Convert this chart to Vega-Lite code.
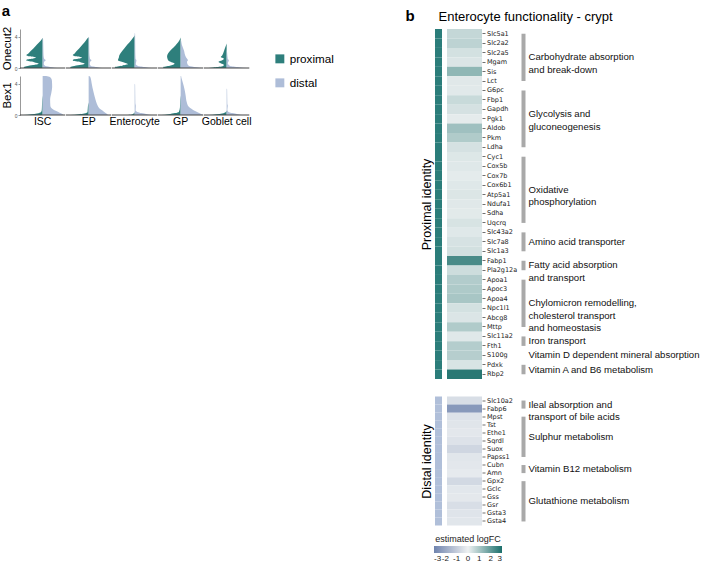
{
"$schema":"https://vega.github.io/schema/vega-lite/v6.json",
"padding":{"left":1,"top":3,"right":0,"bottom":0},
"config":{"view":{"stroke":null},"font":"Liberation Sans",
 "title":{"font":"Liberation Sans","color":"#000"},
 "axis":{"labelFont":"Liberation Sans","titleFont":"Liberation Sans"},
 "header":{"labelFont":"Liberation Sans"},
 "legend":{"labelFont":"Liberation Sans","titleFont":"Liberation Sans"}},
"datasets":{
"violin":[
{"g":"Onecut2","c":"ISC","s":"proximal","e":0,"w":-0.8},{"g":"Onecut2","c":"ISC","s":"proximal","e":0.1,"w":-0.84},{"g":"Onecut2","c":"ISC","s":"proximal","e":0.22,"w":-0.72},{"g":"Onecut2","c":"ISC","s":"proximal","e":0.38,"w":-0.42},{"g":"Onecut2","c":"ISC","s":"proximal","e":0.55,"w":-0.17},{"g":"Onecut2","c":"ISC","s":"proximal","e":0.75,"w":-0.38},{"g":"Onecut2","c":"ISC","s":"proximal","e":0.95,"w":-0.72},{"g":"Onecut2","c":"ISC","s":"proximal","e":1.08,"w":-0.7},{"g":"Onecut2","c":"ISC","s":"proximal","e":1.22,"w":-0.42},{"g":"Onecut2","c":"ISC","s":"proximal","e":1.35,"w":-0.3},{"g":"Onecut2","c":"ISC","s":"proximal","e":1.5,"w":-0.58},{"g":"Onecut2","c":"ISC","s":"proximal","e":1.65,"w":-0.72},{"g":"Onecut2","c":"ISC","s":"proximal","e":1.85,"w":-0.63},{"g":"Onecut2","c":"ISC","s":"proximal","e":2.1,"w":-0.55},{"g":"Onecut2","c":"ISC","s":"proximal","e":2.5,"w":-0.41},{"g":"Onecut2","c":"ISC","s":"proximal","e":3.0,"w":-0.25},{"g":"Onecut2","c":"ISC","s":"proximal","e":3.4,"w":-0.12},{"g":"Onecut2","c":"ISC","s":"proximal","e":3.7,"w":-0.04},{"g":"Onecut2","c":"ISC","s":"proximal","e":3.85,"w":0},
{"g":"Onecut2","c":"EP","s":"proximal","e":0,"w":-0.78},{"g":"Onecut2","c":"EP","s":"proximal","e":0.1,"w":-0.82},{"g":"Onecut2","c":"EP","s":"proximal","e":0.22,"w":-0.7},{"g":"Onecut2","c":"EP","s":"proximal","e":0.38,"w":-0.4},{"g":"Onecut2","c":"EP","s":"proximal","e":0.55,"w":-0.17},{"g":"Onecut2","c":"EP","s":"proximal","e":0.75,"w":-0.36},{"g":"Onecut2","c":"EP","s":"proximal","e":0.95,"w":-0.7},{"g":"Onecut2","c":"EP","s":"proximal","e":1.08,"w":-0.68},{"g":"Onecut2","c":"EP","s":"proximal","e":1.22,"w":-0.4},{"g":"Onecut2","c":"EP","s":"proximal","e":1.35,"w":-0.3},{"g":"Onecut2","c":"EP","s":"proximal","e":1.5,"w":-0.56},{"g":"Onecut2","c":"EP","s":"proximal","e":1.65,"w":-0.7},{"g":"Onecut2","c":"EP","s":"proximal","e":1.85,"w":-0.62},{"g":"Onecut2","c":"EP","s":"proximal","e":2.1,"w":-0.55},{"g":"Onecut2","c":"EP","s":"proximal","e":2.5,"w":-0.42},{"g":"Onecut2","c":"EP","s":"proximal","e":3.0,"w":-0.27},{"g":"Onecut2","c":"EP","s":"proximal","e":3.5,"w":-0.13},{"g":"Onecut2","c":"EP","s":"proximal","e":3.8,"w":-0.05},{"g":"Onecut2","c":"EP","s":"proximal","e":3.95,"w":0},
{"g":"Onecut2","c":"Enterocyte","s":"proximal","e":0,"w":-0.85},{"g":"Onecut2","c":"Enterocyte","s":"proximal","e":0.12,"w":-0.88},{"g":"Onecut2","c":"Enterocyte","s":"proximal","e":0.3,"w":-0.55},{"g":"Onecut2","c":"Enterocyte","s":"proximal","e":0.5,"w":-0.3},{"g":"Onecut2","c":"Enterocyte","s":"proximal","e":0.75,"w":-0.5},{"g":"Onecut2","c":"Enterocyte","s":"proximal","e":1.0,"w":-0.74},{"g":"Onecut2","c":"Enterocyte","s":"proximal","e":1.3,"w":-0.7},{"g":"Onecut2","c":"Enterocyte","s":"proximal","e":1.6,"w":-0.68},{"g":"Onecut2","c":"Enterocyte","s":"proximal","e":2.0,"w":-0.6},{"g":"Onecut2","c":"Enterocyte","s":"proximal","e":2.5,"w":-0.46},{"g":"Onecut2","c":"Enterocyte","s":"proximal","e":3.0,"w":-0.32},{"g":"Onecut2","c":"Enterocyte","s":"proximal","e":3.5,"w":-0.17},{"g":"Onecut2","c":"Enterocyte","s":"proximal","e":3.9,"w":-0.06},{"g":"Onecut2","c":"Enterocyte","s":"proximal","e":4.2,"w":0},
{"g":"Onecut2","c":"GP","s":"proximal","e":0,"w":-0.75},{"g":"Onecut2","c":"GP","s":"proximal","e":0.12,"w":-0.78},{"g":"Onecut2","c":"GP","s":"proximal","e":0.3,"w":-0.48},{"g":"Onecut2","c":"GP","s":"proximal","e":0.55,"w":-0.27},{"g":"Onecut2","c":"GP","s":"proximal","e":0.85,"w":-0.5},{"g":"Onecut2","c":"GP","s":"proximal","e":1.1,"w":-0.57},{"g":"Onecut2","c":"GP","s":"proximal","e":1.5,"w":-0.6},{"g":"Onecut2","c":"GP","s":"proximal","e":1.9,"w":-0.55},{"g":"Onecut2","c":"GP","s":"proximal","e":2.4,"w":-0.4},{"g":"Onecut2","c":"GP","s":"proximal","e":2.9,"w":-0.23},{"g":"Onecut2","c":"GP","s":"proximal","e":3.3,"w":-0.11},{"g":"Onecut2","c":"GP","s":"proximal","e":3.7,"w":-0.03},{"g":"Onecut2","c":"GP","s":"proximal","e":3.9,"w":0},
{"g":"Onecut2","c":"Goblet cell","s":"proximal","e":0,"w":-0.8},{"g":"Onecut2","c":"Goblet cell","s":"proximal","e":0.08,"w":-0.6},{"g":"Onecut2","c":"Goblet cell","s":"proximal","e":0.2,"w":-0.22},{"g":"Onecut2","c":"Goblet cell","s":"proximal","e":0.4,"w":-0.12},{"g":"Onecut2","c":"Goblet cell","s":"proximal","e":0.6,"w":-0.26},{"g":"Onecut2","c":"Goblet cell","s":"proximal","e":0.8,"w":-0.36},{"g":"Onecut2","c":"Goblet cell","s":"proximal","e":1.0,"w":-0.2},{"g":"Onecut2","c":"Goblet cell","s":"proximal","e":1.2,"w":-0.12},{"g":"Onecut2","c":"Goblet cell","s":"proximal","e":1.4,"w":-0.26},{"g":"Onecut2","c":"Goblet cell","s":"proximal","e":1.6,"w":-0.2},{"g":"Onecut2","c":"Goblet cell","s":"proximal","e":2.0,"w":-0.14},{"g":"Onecut2","c":"Goblet cell","s":"proximal","e":2.5,"w":-0.08},{"g":"Onecut2","c":"Goblet cell","s":"proximal","e":2.9,"w":-0.03},{"g":"Onecut2","c":"Goblet cell","s":"proximal","e":3.15,"w":0},
{"g":"Onecut2","c":"ISC","s":"distal","e":0,"w":0.65},{"g":"Onecut2","c":"ISC","s":"distal","e":0.1,"w":0.42},{"g":"Onecut2","c":"ISC","s":"distal","e":0.25,"w":0.12},{"g":"Onecut2","c":"ISC","s":"distal","e":0.5,"w":0.05},{"g":"Onecut2","c":"ISC","s":"distal","e":0.85,"w":0.08},{"g":"Onecut2","c":"ISC","s":"distal","e":1.0,"w":0.14},{"g":"Onecut2","c":"ISC","s":"distal","e":1.15,"w":0.07},{"g":"Onecut2","c":"ISC","s":"distal","e":1.6,"w":0.04},{"g":"Onecut2","c":"ISC","s":"distal","e":2.5,"w":0.03},{"g":"Onecut2","c":"ISC","s":"distal","e":3.7,"w":0.02},{"g":"Onecut2","c":"ISC","s":"distal","e":3.85,"w":0},
{"g":"Onecut2","c":"EP","s":"distal","e":0,"w":0.6},{"g":"Onecut2","c":"EP","s":"distal","e":0.1,"w":0.4},{"g":"Onecut2","c":"EP","s":"distal","e":0.25,"w":0.1},{"g":"Onecut2","c":"EP","s":"distal","e":0.5,"w":0.05},{"g":"Onecut2","c":"EP","s":"distal","e":0.85,"w":0.08},{"g":"Onecut2","c":"EP","s":"distal","e":1.0,"w":0.13},{"g":"Onecut2","c":"EP","s":"distal","e":1.15,"w":0.06},{"g":"Onecut2","c":"EP","s":"distal","e":2.0,"w":0.03},{"g":"Onecut2","c":"EP","s":"distal","e":3.9,"w":0.02},{"g":"Onecut2","c":"EP","s":"distal","e":4.0,"w":0},
{"g":"Onecut2","c":"Enterocyte","s":"distal","e":0,"w":0.75},{"g":"Onecut2","c":"Enterocyte","s":"distal","e":0.1,"w":0.5},{"g":"Onecut2","c":"Enterocyte","s":"distal","e":0.25,"w":0.15},{"g":"Onecut2","c":"Enterocyte","s":"distal","e":0.5,"w":0.05},{"g":"Onecut2","c":"Enterocyte","s":"distal","e":1.0,"w":0.08},{"g":"Onecut2","c":"Enterocyte","s":"distal","e":1.2,"w":0.04},{"g":"Onecut2","c":"Enterocyte","s":"distal","e":2.0,"w":0.03},{"g":"Onecut2","c":"Enterocyte","s":"distal","e":4.4,"w":0.02},{"g":"Onecut2","c":"Enterocyte","s":"distal","e":4.5,"w":0},
{"g":"Onecut2","c":"GP","s":"distal","e":0,"w":1.0},{"g":"Onecut2","c":"GP","s":"distal","e":0.1,"w":0.7},{"g":"Onecut2","c":"GP","s":"distal","e":0.25,"w":0.38},{"g":"Onecut2","c":"GP","s":"distal","e":0.5,"w":0.3},{"g":"Onecut2","c":"GP","s":"distal","e":0.8,"w":0.28},{"g":"Onecut2","c":"GP","s":"distal","e":1.0,"w":0.32},{"g":"Onecut2","c":"GP","s":"distal","e":1.3,"w":0.25},{"g":"Onecut2","c":"GP","s":"distal","e":1.8,"w":0.18},{"g":"Onecut2","c":"GP","s":"distal","e":2.2,"w":0.15},{"g":"Onecut2","c":"GP","s":"distal","e":2.6,"w":0.1},{"g":"Onecut2","c":"GP","s":"distal","e":3.0,"w":0.05},{"g":"Onecut2","c":"GP","s":"distal","e":3.5,"w":0.02},{"g":"Onecut2","c":"GP","s":"distal","e":3.6,"w":0},
{"g":"Onecut2","c":"Goblet cell","s":"distal","e":0,"w":0.9},{"g":"Onecut2","c":"Goblet cell","s":"distal","e":0.1,"w":0.55},{"g":"Onecut2","c":"Goblet cell","s":"distal","e":0.25,"w":0.15},{"g":"Onecut2","c":"Goblet cell","s":"distal","e":0.6,"w":0.05},{"g":"Onecut2","c":"Goblet cell","s":"distal","e":1.0,"w":0.1},{"g":"Onecut2","c":"Goblet cell","s":"distal","e":1.15,"w":0.05},{"g":"Onecut2","c":"Goblet cell","s":"distal","e":2.0,"w":0.02},{"g":"Onecut2","c":"Goblet cell","s":"distal","e":2.4,"w":0},
{"g":"Bex1","c":"ISC","s":"proximal","e":0,"w":-0.85},{"g":"Bex1","c":"ISC","s":"proximal","e":0.1,"w":-0.5},{"g":"Bex1","c":"ISC","s":"proximal","e":0.2,"w":-0.25},{"g":"Bex1","c":"ISC","s":"proximal","e":0.35,"w":-0.08},{"g":"Bex1","c":"ISC","s":"proximal","e":0.6,"w":-0.04},{"g":"Bex1","c":"ISC","s":"proximal","e":1.2,"w":-0.03},{"g":"Bex1","c":"ISC","s":"proximal","e":2.0,"w":-0.02},{"g":"Bex1","c":"ISC","s":"proximal","e":2.5,"w":0},
{"g":"Bex1","c":"EP","s":"proximal","e":0,"w":-0.8},{"g":"Bex1","c":"EP","s":"proximal","e":0.1,"w":-0.45},{"g":"Bex1","c":"EP","s":"proximal","e":0.2,"w":-0.2},{"g":"Bex1","c":"EP","s":"proximal","e":0.4,"w":-0.05},{"g":"Bex1","c":"EP","s":"proximal","e":1.2,"w":-0.03},{"g":"Bex1","c":"EP","s":"proximal","e":1.6,"w":0},
{"g":"Bex1","c":"Enterocyte","s":"proximal","e":0,"w":-0.3},{"g":"Bex1","c":"Enterocyte","s":"proximal","e":0.1,"w":-0.1},{"g":"Bex1","c":"Enterocyte","s":"proximal","e":0.3,"w":-0.02},{"g":"Bex1","c":"Enterocyte","s":"proximal","e":0.4,"w":0},
{"g":"Bex1","c":"GP","s":"proximal","e":0,"w":-0.85},{"g":"Bex1","c":"GP","s":"proximal","e":0.1,"w":-0.55},{"g":"Bex1","c":"GP","s":"proximal","e":0.25,"w":-0.25},{"g":"Bex1","c":"GP","s":"proximal","e":0.4,"w":-0.08},{"g":"Bex1","c":"GP","s":"proximal","e":1.0,"w":-0.03},{"g":"Bex1","c":"GP","s":"proximal","e":2.0,"w":-0.02},{"g":"Bex1","c":"GP","s":"proximal","e":2.5,"w":0},
{"g":"Bex1","c":"Goblet cell","s":"proximal","e":0,"w":-0.8},{"g":"Bex1","c":"Goblet cell","s":"proximal","e":0.1,"w":-0.45},{"g":"Bex1","c":"Goblet cell","s":"proximal","e":0.2,"w":-0.2},{"g":"Bex1","c":"Goblet cell","s":"proximal","e":0.35,"w":-0.05},{"g":"Bex1","c":"Goblet cell","s":"proximal","e":0.6,"w":0},
{"g":"Bex1","c":"ISC","s":"distal","e":0,"w":0.92},{"g":"Bex1","c":"ISC","s":"distal","e":0.15,"w":0.85},{"g":"Bex1","c":"ISC","s":"distal","e":0.3,"w":0.75},{"g":"Bex1","c":"ISC","s":"distal","e":0.5,"w":0.6},{"g":"Bex1","c":"ISC","s":"distal","e":0.8,"w":0.42},{"g":"Bex1","c":"ISC","s":"distal","e":1.2,"w":0.34},{"g":"Bex1","c":"ISC","s":"distal","e":2.0,"w":0.33},{"g":"Bex1","c":"ISC","s":"distal","e":2.8,"w":0.38},{"g":"Bex1","c":"ISC","s":"distal","e":3.6,"w":0.42},{"g":"Bex1","c":"ISC","s":"distal","e":4.4,"w":0.41},{"g":"Bex1","c":"ISC","s":"distal","e":4.8,"w":0.35},{"g":"Bex1","c":"ISC","s":"distal","e":4.95,"w":0.25},{"g":"Bex1","c":"ISC","s":"distal","e":5,"w":0.15},
{"g":"Bex1","c":"EP","s":"distal","e":0,"w":0.85},{"g":"Bex1","c":"EP","s":"distal","e":0.15,"w":0.8},{"g":"Bex1","c":"EP","s":"distal","e":0.45,"w":0.66},{"g":"Bex1","c":"EP","s":"distal","e":0.85,"w":0.47},{"g":"Bex1","c":"EP","s":"distal","e":1.2,"w":0.4},{"g":"Bex1","c":"EP","s":"distal","e":1.7,"w":0.33},{"g":"Bex1","c":"EP","s":"distal","e":2.3,"w":0.27},{"g":"Bex1","c":"EP","s":"distal","e":2.9,"w":0.22},{"g":"Bex1","c":"EP","s":"distal","e":3.5,"w":0.17},{"g":"Bex1","c":"EP","s":"distal","e":4.1,"w":0.13},{"g":"Bex1","c":"EP","s":"distal","e":4.6,"w":0.1},{"g":"Bex1","c":"EP","s":"distal","e":4.95,"w":0.06},{"g":"Bex1","c":"EP","s":"distal","e":5,"w":0},
{"g":"Bex1","c":"Enterocyte","s":"distal","e":0,"w":0.75},{"g":"Bex1","c":"Enterocyte","s":"distal","e":0.1,"w":0.55},{"g":"Bex1","c":"Enterocyte","s":"distal","e":0.25,"w":0.3},{"g":"Bex1","c":"Enterocyte","s":"distal","e":0.4,"w":0.12},{"g":"Bex1","c":"Enterocyte","s":"distal","e":0.6,"w":0.04},{"g":"Bex1","c":"Enterocyte","s":"distal","e":1.2,"w":0.05},{"g":"Bex1","c":"Enterocyte","s":"distal","e":1.5,"w":0.03},{"g":"Bex1","c":"Enterocyte","s":"distal","e":3.9,"w":0.02},{"g":"Bex1","c":"Enterocyte","s":"distal","e":4.0,"w":0},
{"g":"Bex1","c":"GP","s":"distal","e":0,"w":1.0},{"g":"Bex1","c":"GP","s":"distal","e":0.2,"w":0.86},{"g":"Bex1","c":"GP","s":"distal","e":0.45,"w":0.68},{"g":"Bex1","c":"GP","s":"distal","e":0.65,"w":0.55},{"g":"Bex1","c":"GP","s":"distal","e":1.05,"w":0.36},{"g":"Bex1","c":"GP","s":"distal","e":1.65,"w":0.27},{"g":"Bex1","c":"GP","s":"distal","e":2.5,"w":0.22},{"g":"Bex1","c":"GP","s":"distal","e":3.3,"w":0.17},{"g":"Bex1","c":"GP","s":"distal","e":4.1,"w":0.1},{"g":"Bex1","c":"GP","s":"distal","e":4.7,"w":0.04},{"g":"Bex1","c":"GP","s":"distal","e":5,"w":0.02},
{"g":"Bex1","c":"Goblet cell","s":"distal","e":0,"w":0.7},{"g":"Bex1","c":"Goblet cell","s":"distal","e":0.1,"w":0.5},{"g":"Bex1","c":"Goblet cell","s":"distal","e":0.25,"w":0.25},{"g":"Bex1","c":"Goblet cell","s":"distal","e":0.4,"w":0.08},{"g":"Bex1","c":"Goblet cell","s":"distal","e":0.7,"w":0.03},{"g":"Bex1","c":"Goblet cell","s":"distal","e":1.2,"w":0.05},{"g":"Bex1","c":"Goblet cell","s":"distal","e":1.4,"w":0.03},{"g":"Bex1","c":"Goblet cell","s":"distal","e":3.3,"w":0.02},{"g":"Bex1","c":"Goblet cell","s":"distal","e":3.4,"w":0}
],
"prox":[
{"gene":"Slc5a1","fc":0.6},{"gene":"Slc2a2","fc":0.7},{"gene":"Slc2a5","fc":0.38},{"gene":"Mgam","fc":0.27},{"gene":"Sis","fc":1.35},{"gene":"Lct","fc":0.2},{"gene":"G6pc","fc":0.18},{"gene":"Fbp1","fc":0.54},{"gene":"Gapdh","fc":0.36},{"gene":"Pgk1","fc":0.13},{"gene":"Aldob","fc":1.12},{"gene":"Pkm","fc":0.88},{"gene":"Ldha","fc":0.36},{"gene":"Cyc1","fc":0.24},{"gene":"Cox5b","fc":0.21},{"gene":"Cox7b","fc":0.14},{"gene":"Cox6b1","fc":0.21},{"gene":"Atp5a1","fc":0.26},{"gene":"Ndufa1","fc":0.2},{"gene":"Sdha","fc":0.17},{"gene":"Uqcrq","fc":0.33},{"gene":"Slc43a2","fc":0.21},{"gene":"Slc7a8","fc":0.34},{"gene":"Slc1a3","fc":0.4},{"gene":"Fabp1","fc":2.35},{"gene":"Pla2g12a","fc":0.47},{"gene":"Apoa1","fc":0.85},{"gene":"Apoc3","fc":0.91},{"gene":"Apoa4","fc":1.0},{"gene":"Npc1l1","fc":0.38},{"gene":"Abcg8","fc":0.27},{"gene":"Mttp","fc":0.88},{"gene":"Slc11a2","fc":0.21},{"gene":"Fth1","fc":0.82},{"gene":"S100g","fc":0.8},{"gene":"Pdxk","fc":0.31},{"gene":"Rbp2","fc":2.8}
],
"dist":[
{"gene":"Slc10a2","fc":-0.52},{"gene":"Fabp6","fc":-2.4},{"gene":"Mpst","fc":-0.4},{"gene":"Tst","fc":-0.33},{"gene":"Ethe1","fc":-0.26},{"gene":"Sqrdl","fc":-0.4},{"gene":"Suox","fc":-0.73},{"gene":"Papss1","fc":-0.3},{"gene":"Cubn","fc":-0.26},{"gene":"Amn","fc":-0.19},{"gene":"Gpx2","fc":-0.66},{"gene":"Gclc","fc":-0.28},{"gene":"Gss","fc":-0.24},{"gene":"Gsr","fc":-0.52},{"gene":"Gsta3","fc":-0.35},{"gene":"Gsta4","fc":-0.3}
],
"proxGroups":[
{"label":"Carbohydrate absorption\nand break-down","first":"Slc5a1","last":"Lct","anchor":"Slc2a5","evenCount":true},
{"label":"Glycolysis and\ngluconeogenesis","first":"G6pc","last":"Ldha","anchor":"Gapdh","evenCount":true},
{"label":"Oxidative\nphosphorylation","first":"Cyc1","last":"Uqcrq","anchor":"Cox6b1","evenCount":true},
{"label":"Amino acid transporter","first":"Slc43a2","last":"Slc1a3","anchor":"Slc7a8","evenCount":false},
{"label":"Fatty acid absorption\nand transport","first":"Fabp1","last":"Pla2g12a","anchor":"Fabp1","evenCount":true},
{"label":"Chylomicron remodelling,\ncholesterol transport\nand homeostasis","first":"Apoa1","last":"Mttp","anchor":"Apoa4","evenCount":true},
{"label":"Iron transport","first":"Slc11a2","last":"Fth1","anchor":"Slc11a2","evenCount":true},
{"label":"Vitamin D dependent mineral absorption","first":"S100g","last":"S100g","anchor":"S100g","evenCount":false},
{"label":"Vitamin A and B6 metabolism","first":"Pdxk","last":"Rbp2","anchor":"Pdxk","evenCount":true}
],
"distGroups":[
{"label":"Ileal absorption and\ntransport of bile acids","first":"Slc10a2","last":"Fabp6","anchor":"Slc10a2","evenCount":true},
{"label":"Sulphur metabolism","first":"Mpst","last":"Papss1","anchor":"Ethe1","evenCount":true},
{"label":"Vitamin B12 metabolism","first":"Cubn","last":"Amn","anchor":"Cubn","evenCount":true},
{"label":"Glutathione metabolism","first":"Gpx2","last":"Gsta4","anchor":"Gss","evenCount":true}
]
},
"resolve":{"scale":{"color":"independent"},"legend":{"color":"independent"}},
"spacing":71,
"hconcat":[
{
 "title":{"text":"a","anchor":"start","fontSize":15,"fontWeight":"bold","dx":0,"offset":8},
 "data":{"name":"violin"},
 "bounds":"flush",
 "facet":{
  "row":{"field":"g","type":"nominal","sort":["Onecut2","Bex1"],"header":{"title":null,"labelAngle":-90,"labelOrient":"left","labelFontSize":11.5,"labelPadding":-5}},
  "column":{"field":"c","type":"nominal","sort":["ISC","EP","Enterocyte","GP","Goblet cell"],"header":{"title":null,"labelOrient":"bottom","labelFontSize":10.5,"labelPadding":2}}
 },
 "spacing":{"row":8,"column":0},
 "spec":{
  "width":45.3,"height":39,
  "layer":[
   {"mark":{"type":"area","orient":"horizontal","interpolate":"monotone"},
    "encoding":{
     "y":{"field":"e","type":"quantitative","scale":{"domain":[0,5],"nice":false},
      "axis":{"values":[0,2,4],"grid":false,"title":null,"labelFontSize":5,"tickSize":2,"labelPadding":1,"domainColor":"#999","tickColor":"#999","labelColor":"#555"}},
     "x":{"field":"w","type":"quantitative","scale":{"domain":[-1,1]},"axis":null,"stack":null},
     "x2":{"datum":0},
     "color":{"field":"s","type":"nominal","scale":{"domain":["proximal","distal"],"range":["#2e7f7c","#aebdd8"]},
      "legend":{"title":null,"orient":"none","legendX":254,"legendY":24,"symbolType":"square","symbolSize":80,"labelFontSize":11.7,"rowPadding":11,"labelOffset":4,"symbolStrokeWidth":0}}
    }},
   {"transform":[{"filter":"datum.e == 0 && datum.s == 'proximal'"}],
    "mark":{"type":"rule","color":"#444","strokeWidth":1.2},
    "encoding":{"y":{"datum":0},"x":{"datum":-1},"x2":{"datum":1}}}
  ]
 }
},
{
 "spacing":17.5,
 "vconcat":[
  {"bounds":"flush","spacing":5,"hconcat":[
    {"width":7,"height":350,"data":{"name":"prox"},"mark":{"type":"rect","color":"#2b7d7a"},
     "encoding":{
      "x":{"datum":"identity","type":"nominal","scale":{"paddingInner":0,"paddingOuter":0},
       "axis":{"orient":"top","labels":false,"ticks":false,"domain":false,"title":["","b"],"titleLineHeight":5,"titleFontSize":15,"titleFontWeight":"bold","titleColor":"#000","titleAlign":"left","titleX":-30,"titlePadding":6}},
      "y":{"field":"gene","type":"nominal","sort":null,"scale":{"paddingInner":0,"paddingOuter":0},
       "axis":{"title":"Proximal identity","labels":false,"ticks":false,"domain":false,"titleFontSize":12.5,"titleFontWeight":"normal","titleColor":"#000","titlePadding":2}}}},
    {"width":35,"height":350,"data":{"name":"prox"},"mark":{"type":"rect"},
     "encoding":{
      "x":{"datum":"logFC","type":"nominal","scale":{"paddingInner":0,"paddingOuter":0},
       "axis":{"orient":"top","labels":false,"ticks":false,"domain":false,"title":"Enterocyte functionality - crypt","titleFontSize":13,"titleFontWeight":"normal","titleColor":"#000","titleAlign":"left","titleX":-9,"titlePadding":6}},
      "y":{"field":"gene","type":"nominal","sort":null,"scale":{"paddingInner":0,"paddingOuter":0},
       "axis":{"orient":"right","title":null,"domain":false,"ticks":true,"tickSize":3,"tickColor":"#333","tickWidth":0.7,"labelFont":"DejaVu Sans","labelFontSize":6.5,"labelColor":"#222","labelPadding":1.5}},
      "color":{"field":"fc","type":"quantitative","scale":{"domain":[-3,0,3],"range":["#6f83ad","#eef1f2","#1b6f6b"],"interpolate":"rgb"},
       "legend":{"title":"estimated logFC","orient":"none","legendX":-1,"legendY":506,"direction":"horizontal","gradientLength":68,"gradientThickness":7,"titleFontSize":9,"titleFontWeight":"normal","titleColor":"#222","labelFontSize":8,"labelColor":"#222","values":[-3,-2,-1,0,1,2,3],"labelOverlap":false,"labelFlush":false,"labelAlign":"center","labelExpr":"'' + datum.value","titlePadding":2,"titleAnchor":"middle"}}}},
    {"width":73,"height":350,"data":{"name":"proxGroups"},
     "layer":[
      {"mark":{"type":"rule","color":"#a9a9a9","strokeWidth":4},
       "encoding":{
        "x":{"datum":"group","type":"nominal","axis":null},
        "y":{"field":"first","type":"nominal","scale":{"type":"band","paddingInner":0,"paddingOuter":0,"domain":["Slc5a1","Slc2a2","Slc2a5","Mgam","Sis","Lct","G6pc","Fbp1","Gapdh","Pgk1","Aldob","Pkm","Ldha","Cyc1","Cox5b","Cox7b","Cox6b1","Atp5a1","Ndufa1","Sdha","Uqcrq","Slc43a2","Slc7a8","Slc1a3","Fabp1","Pla2g12a","Apoa1","Apoc3","Apoa4","Npc1l1","Abcg8","Mttp","Slc11a2","Fth1","S100g","Pdxk","Rbp2"]},"axis":null},
        "y2":{"field":"last"}}},
      {"transform":[{"filter":"datum.evenCount"}],
       "mark":{"type":"text","align":"left","baseline":"middle","dx":5,"dy":4.73,"fontSize":9.6,"lineBreak":"\n","lineHeight":12.5,"color":"#111"},
       "encoding":{
        "x":{"datum":"group","type":"nominal","axis":null},
        "y":{"field":"anchor","type":"nominal","scale":{"type":"band","paddingInner":0,"paddingOuter":0,"domain":["Slc5a1","Slc2a2","Slc2a5","Mgam","Sis","Lct","G6pc","Fbp1","Gapdh","Pgk1","Aldob","Pkm","Ldha","Cyc1","Cox5b","Cox7b","Cox6b1","Atp5a1","Ndufa1","Sdha","Uqcrq","Slc43a2","Slc7a8","Slc1a3","Fabp1","Pla2g12a","Apoa1","Apoc3","Apoa4","Npc1l1","Abcg8","Mttp","Slc11a2","Fth1","S100g","Pdxk","Rbp2"]},"axis":null},"text":{"field":"label"}}},
      {"transform":[{"filter":"!datum.evenCount"}],
       "mark":{"type":"text","align":"left","baseline":"middle","dx":5,"fontSize":9.6,"lineBreak":"\n","lineHeight":12.5,"color":"#111"},
       "encoding":{
        "x":{"datum":"group","type":"nominal","axis":null},
        "y":{"field":"anchor","type":"nominal","scale":{"type":"band","paddingInner":0,"paddingOuter":0,"domain":["Slc5a1","Slc2a2","Slc2a5","Mgam","Sis","Lct","G6pc","Fbp1","Gapdh","Pgk1","Aldob","Pkm","Ldha","Cyc1","Cox5b","Cox7b","Cox6b1","Atp5a1","Ndufa1","Sdha","Uqcrq","Slc43a2","Slc7a8","Slc1a3","Fabp1","Pla2g12a","Apoa1","Apoc3","Apoa4","Npc1l1","Abcg8","Mttp","Slc11a2","Fth1","S100g","Pdxk","Rbp2"]},"axis":null},"text":{"field":"label"}}}
     ]
    }
  ]},
  {"bounds":"flush","spacing":5,"hconcat":[
    {"width":7,"height":129,"data":{"name":"dist"},"mark":{"type":"rect","color":"#b0bfd9"},
     "encoding":{
      "x":{"datum":"identity","type":"nominal","scale":{"paddingInner":0,"paddingOuter":0},"axis":null},
      "y":{"field":"gene","type":"nominal","sort":null,"scale":{"paddingInner":0,"paddingOuter":0},
       "axis":{"title":"Distal identity","labels":false,"ticks":false,"domain":false,"titleFontSize":12.5,"titleFontWeight":"normal","titleColor":"#000","titlePadding":2}}}},
    {"width":35,"height":129,"data":{"name":"dist"},"mark":{"type":"rect"},
     "encoding":{
      "x":{"datum":"logFC","type":"nominal","scale":{"paddingInner":0,"paddingOuter":0},"axis":null},
      "y":{"field":"gene","type":"nominal","sort":null,"scale":{"paddingInner":0,"paddingOuter":0},
       "axis":{"orient":"right","title":null,"domain":false,"ticks":true,"tickSize":3,"tickColor":"#333","tickWidth":0.7,"labelFont":"DejaVu Sans","labelFontSize":6.5,"labelColor":"#222","labelPadding":1.5}},
      "color":{"field":"fc","type":"quantitative","scale":{"domain":[-3,0,3],"range":["#6f83ad","#eef1f2","#1b6f6b"],"interpolate":"rgb"},
       "legend":{"title":"estimated logFC","orient":"none","legendX":-1,"legendY":506,"direction":"horizontal","gradientLength":68,"gradientThickness":7,"titleFontSize":9,"titleFontWeight":"normal","titleColor":"#222","labelFontSize":8,"labelColor":"#222","values":[-3,-2,-1,0,1,2,3],"labelOverlap":false,"labelFlush":false,"labelAlign":"center","labelExpr":"'' + datum.value","titlePadding":2,"titleAnchor":"middle"}}}},
    {"width":73,"height":129,"data":{"name":"distGroups"},
     "layer":[
      {"mark":{"type":"rule","color":"#a9a9a9","strokeWidth":4},
       "encoding":{
        "x":{"datum":"group","type":"nominal","axis":null},
        "y":{"field":"first","type":"nominal","scale":{"type":"band","paddingInner":0,"paddingOuter":0,"domain":["Slc10a2","Fabp6","Mpst","Tst","Ethe1","Sqrdl","Suox","Papss1","Cubn","Amn","Gpx2","Gclc","Gss","Gsr","Gsta3","Gsta4"]},"axis":null},
        "y2":{"field":"last"}}},
      {"mark":{"type":"text","align":"left","baseline":"middle","dx":5,"dy":4.03,"fontSize":9.6,"lineBreak":"\n","lineHeight":12.5,"color":"#111"},
       "encoding":{
        "x":{"datum":"group","type":"nominal","axis":null},
        "y":{"field":"anchor","type":"nominal","scale":{"type":"band","paddingInner":0,"paddingOuter":0,"domain":["Slc10a2","Fabp6","Mpst","Tst","Ethe1","Sqrdl","Suox","Papss1","Cubn","Amn","Gpx2","Gclc","Gss","Gsr","Gsta3","Gsta4"]},"axis":null},"text":{"field":"label"}}}
     ]
    }
  ]}
 ]
}
]
}
